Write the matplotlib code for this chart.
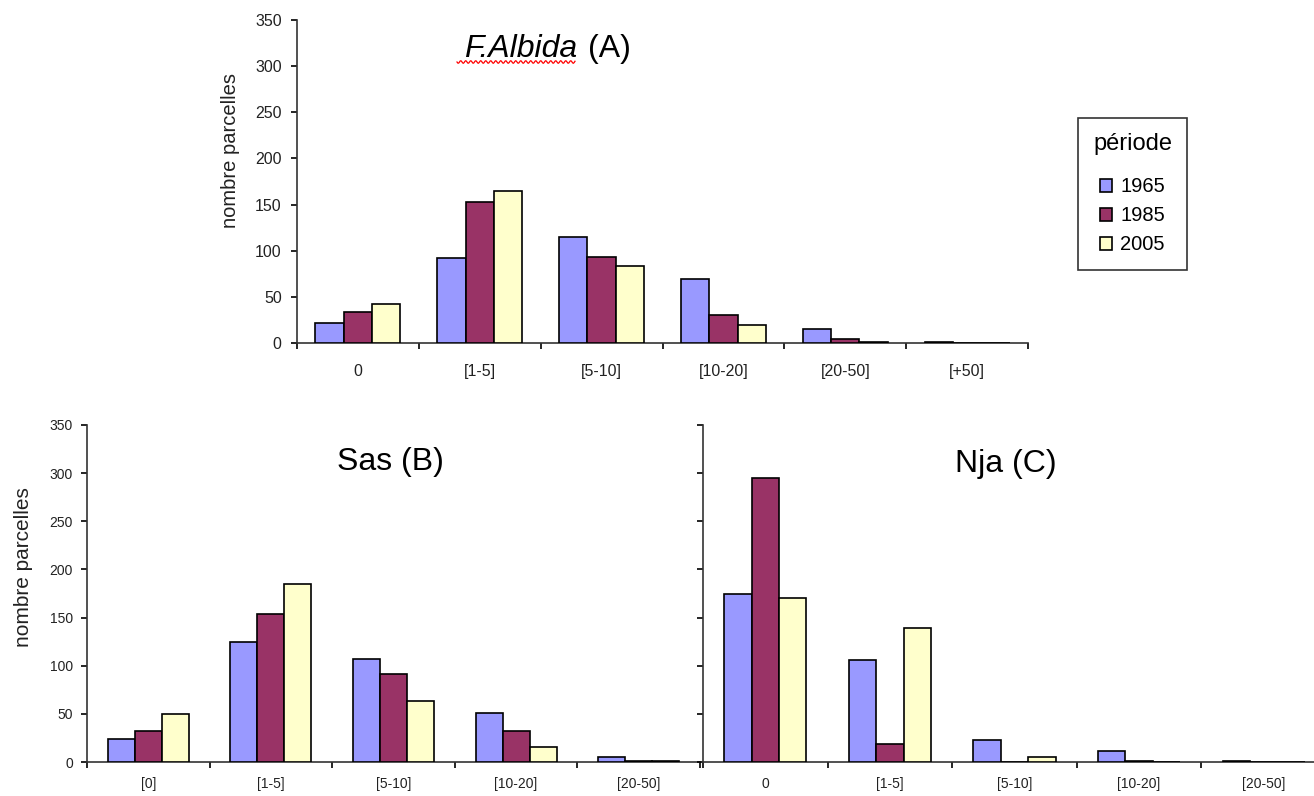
import numpy as np
import matplotlib
matplotlib.use("Agg")
import matplotlib.pyplot as plt
from matplotlib.lines import Line2D

plt.rcParams["font.family"] = ["Liberation Sans", "DejaVu Sans"]

# --- Data --------------------------------------------------------------
PERIODS = ["1965", "1985", "2005"]
COLOURS = ["#9999FF", "#993366", "#FFFFCC"]

cats_a = ["0", "[1-5]", "[5-10]", "[10-20]", "[20-50]", "[+50]"]
a_1965 = [22, 92, 115, 69, 15, 1]
a_1985 = [34, 153, 93, 30, 4, 0]
a_2005 = [42, 165, 83, 20, 1, 0]

cats_b = ["[0]", "[1-5]", "[5-10]", "[10-20]", "[20-50]"]
b_1965 = [24, 125, 107, 51, 5]
b_1985 = [32, 154, 91, 32, 1]
b_2005 = [50, 185, 63, 16, 1]

cats_c = ["0", "[1-5]", "[5-10]", "[10-20]", "[20-50]"]
c_1965 = [174, 106, 23, 11, 1]
c_1985 = [295, 19, 0, 1, 0]
c_2005 = [170, 139, 5, 0, 0]

W, H = 1314, 796
fig = plt.figure(figsize=(W / 100, H / 100), dpi=100)
TXT = "#222222"


def px_axes(left, top, right, bottom):
    return fig.add_axes([left / W, 1 - bottom / H, (right - left) / W, (bottom - top) / H])


def fig_text(x, y, s, **kw):
    # place text using pixel coordinates measured from the top-left corner
    return fig.text(x / W, 1 - y / H, s, **kw)


def bar_panel(ax, cats, series, bar_w, tick_size, xpad, ypad, show_ylabels=True):
    x = np.arange(len(cats))
    for k, vals in enumerate(series):
        ax.bar(x + (k - 1) * bar_w, vals, width=bar_w, color=COLOURS[k],
               edgecolor="black", linewidth=1.2, label=PERIODS[k], zorder=3)
    ax.set_xlim(-0.5, len(cats) - 0.5)
    ax.set_ylim(0, 350)
    ax.set_yticks(np.arange(0, 351, 50))
    ax.set_xticks(x)
    ax.set_xticklabels(cats, fontsize=tick_size, color=TXT)
    ax.set_xticks(np.arange(-0.5, len(cats)), minor=True)
    ax.tick_params(axis="x", which="major", length=0, pad=xpad)
    ax.tick_params(axis="x", which="minor", length=4, width=1.2, direction="out")
    ax.tick_params(axis="y", length=4, width=1.2, direction="out", pad=ypad,
                   labelsize=tick_size, labelcolor=TXT)
    if not show_ylabels:
        ax.set_yticklabels([])
    for side in ("top", "right"):
        ax.spines[side].set_visible(False)
    for side in ("left", "bottom"):
        ax.spines[side].set_linewidth(1.2)
        ax.spines[side].set_color("#333333")


# --- Top panel: F.Albida (A) --------------------------------------------
ax_a = px_axes(297, 20, 1028, 343)
bar_panel(ax_a, cats_a, [a_1965, a_1985, a_2005], 0.233, 11.5, xpad=15, ypad=7)
fig_text(231, 151, "nombre parcelles", fontsize=14.5, color=TXT,
         rotation=90, ha="center", va="center")

fig_text(577, 57, "F.Albida", fontsize=23, style="italic", ha="right", va="baseline")
fig_text(588, 57, "(A)", fontsize=23, ha="left", va="baseline")

# red spell-check squiggle under the italic name
xs = np.linspace(457, 575, 150)
ys = 62 + 1.3 * np.sin((xs - 457) / 5.0 * 2 * np.pi)
fig.add_artist(Line2D(xs / W, 1 - ys / H, color="red", linewidth=0.9,
                      transform=fig.transFigure))

handles, labels = ax_a.get_legend_handles_labels()
leg = fig.legend(handles, labels, title="période", loc="upper left",
                 bbox_to_anchor=(1078 / W, 1 - 118 / H), fontsize=14.5,
                 title_fontsize=17, frameon=True, fancybox=False,
                 edgecolor="black", handlelength=0.6, handleheight=0.6,
                 handletextpad=0.4, labelspacing=0.5, borderpad=0.75,
                 borderaxespad=0)
leg.get_frame().set_linewidth(1.2)
leg._legend_box.sep = 16  # extra room between "période" and the entries

# --- Bottom left: Sas (B) -----------------------------------------------
ax_b = px_axes(87, 425, 700, 762)
bar_panel(ax_b, cats_b, [b_1965, b_1985, b_2005], 0.22, 10, xpad=11, ypad=6)
fig_text(24, 567, "nombre parcelles", fontsize=15, color=TXT,
         rotation=90, ha="center", va="center")
fig_text(390, 470, "Sas (B)", fontsize=23, ha="center", va="baseline")

# --- Bottom right: Nja (C) ----------------------------------------------
ax_c = px_axes(703, 425, 1326, 762)
bar_panel(ax_c, cats_c, [c_1965, c_1985, c_2005], 0.22, 10, xpad=11, ypad=6,
          show_ylabels=False)
fig_text(1006, 472, "Nja (C)", fontsize=23, ha="center", va="baseline")

fig.savefig("out.png", dpi=100)
